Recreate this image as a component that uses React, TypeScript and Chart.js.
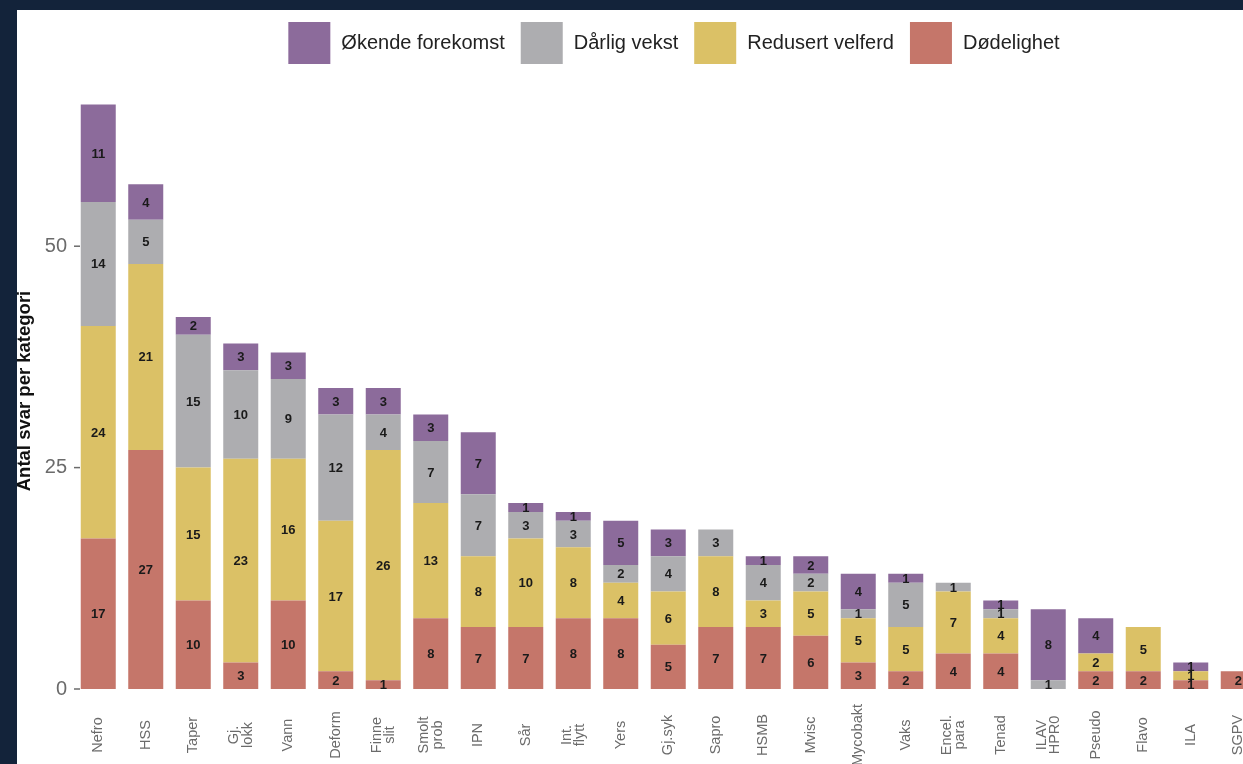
import React, { useEffect, useRef } from "react";
import { Chart, registerables } from "chart.js";

Chart.register(...registerables);

const categories: (string | string[])[] = [
  "Nefro", "HSS", "Taper", ["Gj.", "lokk"], "Vann", "Deform", ["Finne", "slit"],
  ["Smolt", "prob"], "IPN", "Sår", ["Int.", "flytt"], "Yers", "Gj.syk", "Sapro",
  "HSMB", "Mvisc", "Mycobakt", "Vaks", ["Encel.", "para"], "Tenad", ["ILAV", "HPR0"],
  "Pseudo", "Flavo", "ILA", "SGPV",
];

const dodelighet = [17, 27, 10, 3, 10, 2, 1, 8, 7, 7, 8, 8, 5, 7, 7, 6, 3, 2, 4, 4, 0, 2, 2, 1, 2];
const redusertVelferd = [24, 21, 15, 23, 16, 17, 26, 13, 8, 10, 8, 4, 6, 8, 3, 5, 5, 5, 7, 4, 0, 2, 5, 1, 0];
const darligVekst = [14, 5, 15, 10, 9, 12, 4, 7, 7, 3, 3, 2, 4, 3, 4, 2, 1, 5, 1, 1, 1, 0, 0, 0, 0];
const okendeForekomst = [11, 4, 2, 3, 3, 3, 3, 3, 7, 1, 1, 5, 3, 0, 1, 2, 4, 1, 0, 1, 8, 4, 0, 1, 0];

const yTicks = [0, 25, 50];

const seriesNames = ["Dødelighet", "Redusert velferd", "Dårlig vekst", "Økende forekomst"];
const seriesColors = ["#c5766a", "#dbc166", "#adadb0", "#8c6b9b"];

const FONT = "'Liberation Sans', Arial, Helvetica, sans-serif";

const labelPlugin = {
  id: "segmentLabels",
  afterDatasetsDraw(chart: any) {
    const ctx = chart.ctx;
    ctx.save();
    ctx.font = `bold 13px ${FONT}`;
    ctx.fillStyle = "#1a1a1a";
    ctx.textAlign = "center";
    ctx.textBaseline = "middle";
    chart.data.datasets.forEach((ds: any, i: number) => {
      const meta = chart.getDatasetMeta(i);
      meta.data.forEach((bar: any, j: number) => {
        const v = ds.data[j];
        if (!v) return;
        const p = bar.getProps(["x", "y", "base"], true);
        ctx.fillText(String(v), p.x, (p.y + p.base) / 2 + 1);
      });
    });
    ctx.restore();
  },
};

const yTickMarkPlugin = {
  id: "yTickMarks",
  afterDraw(chart: any) {
    const ctx = chart.ctx;
    const y = chart.scales.y;
    const left = chart.chartArea.left;
    ctx.save();
    ctx.strokeStyle = "#6b6b6b";
    ctx.lineWidth = 1.5;
    yTicks.forEach((v) => {
      const py = y.getPixelForValue(v);
      ctx.beginPath();
      ctx.moveTo(left - 0.5, py);
      ctx.lineTo(left + 5.5, py);
      ctx.stroke();
    });
    ctx.restore();
  },
};

const xLabelPlugin = {
  id: "xLabels",
  afterDraw(chart: any) {
    const ctx = chart.ctx;
    const scale = chart.scales.x;
    ctx.save();
    ctx.font = `14.5px ${FONT}`;
    ctx.fillStyle = "#6b6b6b";
    ctx.textAlign = "center";
    ctx.textBaseline = "middle";
    const lh = 13.5;
    categories.forEach((lab, i) => {
      const lines = Array.isArray(lab) ? lab : [lab];
      const x = scale.getPixelForTick(i);
      const cy = chart.chartArea.bottom + 46;
      ctx.save();
      ctx.translate(x, cy);
      ctx.rotate(-Math.PI / 2);
      lines.forEach((ln, k) => {
        ctx.fillText(ln, 0, (k - (lines.length - 1) / 2) * lh);
      });
      ctx.restore();
    });
    ctx.restore();
  },
};

const legendPlugin = {
  id: "customLegend",
  afterDraw(chart: any) {
    const ctx = chart.ctx;
    ctx.save();
    ctx.font = `20px ${FONT}`;
    ctx.textBaseline = "middle";
    ctx.textAlign = "left";
    const order = [3, 2, 1, 0];
    const box = 42;
    const gapText = 11;
    const gapItem = 16;
    const widths = order.map((k) => ctx.measureText(seriesNames[k]).width);
    const total = widths.reduce((a, w) => a + box + gapText + w, 0) + gapItem * (order.length - 1);
    let x = 667 - total / 2;
    const top = 12;
    order.forEach((k, idx) => {
      ctx.fillStyle = seriesColors[k];
      ctx.fillRect(x, top, box, box);
      ctx.fillStyle = "#222";
      ctx.fillText(seriesNames[k], x + box + gapText, top + box / 2);
      x += box + gapText + widths[idx] + gapItem;
    });
    ctx.restore();
  },
};

export default function App() {
  const ref = useRef<HTMLCanvasElement | null>(null);

  useEffect(() => {
    document.body.style.margin = "0";
    const canvas = ref.current!;
    const datasets = [dodelighet, redusertVelferd, darligVekst, okendeForekomst].map((d, i) => ({
      label: seriesNames[i],
      data: d,
      backgroundColor: seriesColors[i],
      borderWidth: 0,
      categoryPercentage: 1,
      barPercentage: 0.737,
    }));
    const chart = new Chart(canvas, {
      type: "bar",
      data: { labels: categories as any, datasets },
      options: {
        responsive: false,
        animation: false,
        devicePixelRatio: 1,
        layout: { padding: { top: 83, left: 0, right: 0, bottom: 0 } },
        plugins: { legend: { display: false }, tooltip: { enabled: false } },
        scales: {
          x: {
            stacked: true,
            offset: true,
            grid: { display: false },
            border: { display: false },
            ticks: { display: false },
            afterFit: (s: any) => {
              s.height = 90;
            },
          },
          y: {
            stacked: true,
            min: 0,
            max: 67.3,
            border: { display: false },
            grid: {
              display: false,
              drawTicks: false,
            },
            afterBuildTicks: (s: any) => {
              s.ticks = yTicks.map((v) => ({ value: v }));
            },
            ticks: {
              padding: 7.5,
              color: "#6b6b6b",
              font: { size: 20, family: FONT },
            },
            title: {
              display: true,
              text: "Antal svar per kategori",
              color: "#111",
              font: { size: 18.5, weight: "bold", family: FONT },
              padding: { top: 7, bottom: 0 },
            },
            afterFit: (s: any) => {
              s.width = 67.5;
            },
          },
        },
      },
      plugins: [labelPlugin, yTickMarkPlugin, xLabelPlugin, legendPlugin],
    });
    return () => chart.destroy();
  }, []);

  return (
    <div
      style={{
        position: "fixed",
        left: 0,
        top: 0,
        width: 1243,
        height: 764,
        background: "#13233a",
        overflow: "hidden",
      }}
    >
      <div
        style={{
          position: "absolute",
          left: 17,
          top: 10,
          width: 1300,
          height: 800,
          background: "#ffffff",
          overflow: "hidden",
        }}
      >
        <canvas
          ref={ref}
          width={1255}
          height={769}
          style={{ position: "absolute", left: -10, top: 0, width: 1255, height: 769 }}
        />
      </div>
    </div>
  );
}
